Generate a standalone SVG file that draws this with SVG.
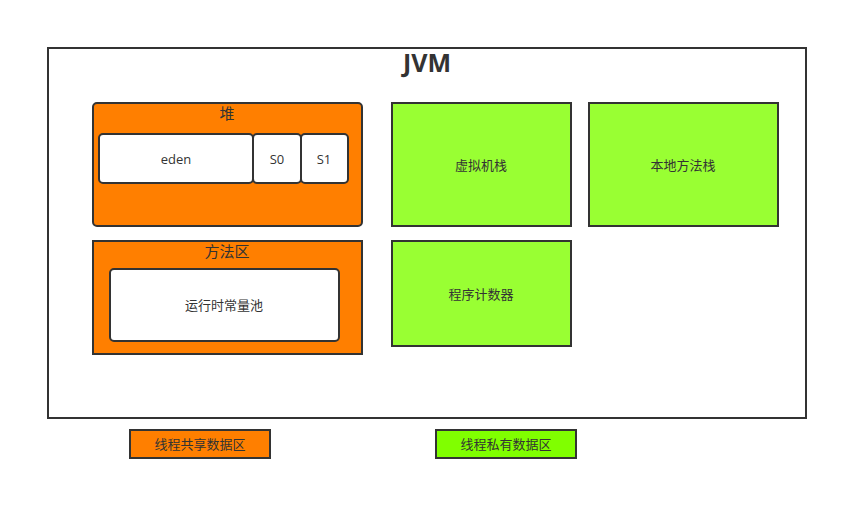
<svg xmlns="http://www.w3.org/2000/svg" width="868" height="520" viewBox="0 0 868 520">
<style>
text{font-family:"Open Sans","Noto Sans CJK SC",sans-serif;fill:#333;text-anchor:middle;dominant-baseline:central;font-size:13px}
.b{stroke:#333;stroke-width:2}
.o{fill:#FF7F00}
.g{fill:#99FF33}
.w{fill:#fff}
.t{font-size:15px}
</style>
<rect width="868" height="520" fill="#fff"/>
<g id="jvm">
<rect class="b w" x="48" y="48" width="758" height="370"/>
<text x="427" y="62" style="font-size:25px;font-weight:bold">JVM</text>
</g>
<g id="heap">
<rect class="b o" x="93" y="103" width="269" height="123" rx="4"/>
<text class="t" x="227" y="113">堆</text>
</g>
<g id="eden"><rect class="b w" x="99" y="134" width="154" height="49" rx="4"/><text x="176" y="159">eden</text></g>
<g id="s0"><rect class="b w" x="253" y="134" width="48" height="49" rx="4"/><text x="277" y="159">S0</text></g>
<g id="s1"><rect class="b w" x="301" y="134" width="47" height="49" rx="4"/><text x="324" y="159">S1</text></g>
<g id="method">
<rect class="b o" x="93" y="241" width="269" height="113"/>
<text class="t" x="227" y="251">方法区</text>
</g>
<g id="pool"><rect class="b w" x="110" y="269" width="229" height="72" rx="4"/><text x="224" y="305">运行时常量池</text></g>
<g id="vmstack"><rect class="b g" x="392" y="103" width="179" height="123"/><text x="481" y="165">虚拟机栈</text></g>
<g id="native"><rect class="b g" x="589" y="103" width="189" height="123"/><text x="683" y="165">本地方法栈</text></g>
<g id="pc"><rect class="b g" x="392" y="241" width="179" height="105"/><text x="481" y="294">程序计数器</text></g>
<g id="legend-shared"><rect class="b o" x="130" y="430" width="140" height="28"/><text x="200" y="444">线程共享数据区</text></g>
<g id="legend-private"><rect class="b" x="436" y="430" width="140" height="28" fill="#80FF00"/><text x="506" y="444">线程私有数据区</text></g>
<g id="connectors"></g>
</svg>
